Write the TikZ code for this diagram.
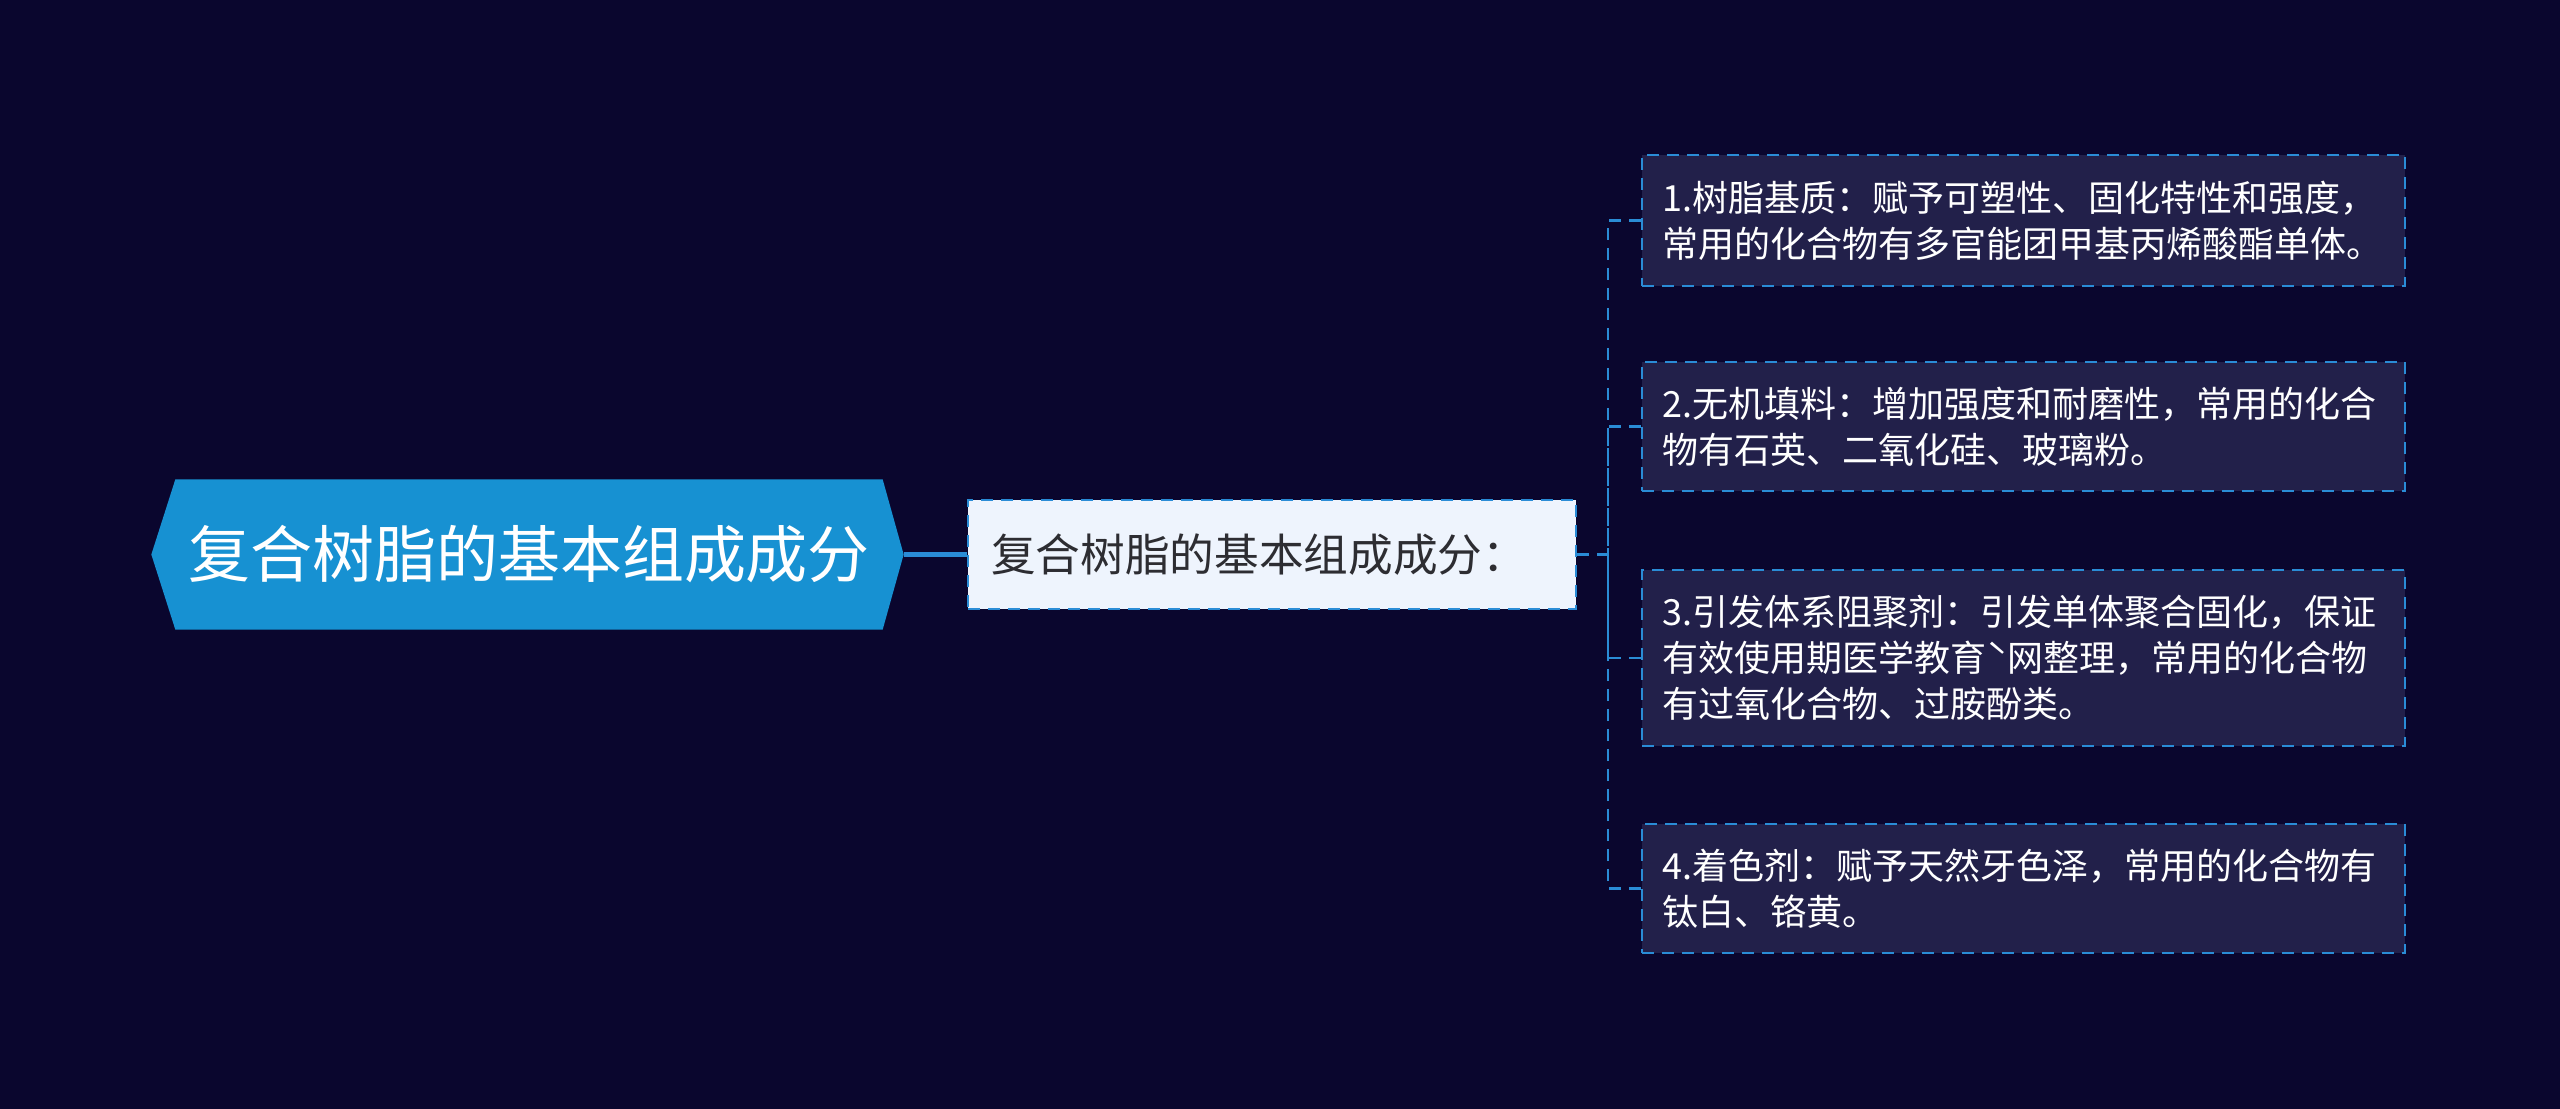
\documentclass[tikz,border=0pt]{standalone}
\usepackage{fontspec}
\newfontfamily\cjk{Noto Sans CJK SC}
\definecolor{bgc}{RGB}{10,6,46}
\definecolor{rootc}{RGB}{23,145,210}
\definecolor{linec}{RGB}{42,140,214}
\definecolor{leaffill}{RGB}{34,32,74}
\definecolor{childfill}{RGB}{238,244,253}
\definecolor{childtext}{RGB}{45,45,50}
\tikzset{
  dsh/.style={dash pattern=on 3.6pt off 2.4pt},
  rootbox/.style={inner sep=0pt, minimum width=211.8pt, minimum height=44.7pt, text=white,
    font=\cjk\fontsize{18.6pt}{22pt}\selectfont},
  childbox/.style={draw=linec, dsh, line width=0.8pt, fill=childfill, inner xsep=6.9pt, inner ysep=0pt,
    minimum width=182.4pt, minimum height=32.7pt, text width=168.6pt, align=left, text=childtext,
    font=\cjk\fontsize{13.4pt}{16pt}\selectfont},
  leafbox/.style={draw=linec, dsh, line width=0.8pt, fill=leaffill, inner xsep=6pt, inner ysep=0pt,
    minimum width=228.9pt, text width=216.9pt, align=left, text=white,
    font=\cjk\fontsize{10.8pt}{13.8pt}\selectfont},
  link/.style={draw=linec, line width=1.5pt},
  dlink/.style={draw=linec, dsh, line width=0.8pt}
}
\begin{document}
\begin{tikzpicture}[x=0.3pt,y=-0.3pt]
\fill[bgc] (0,0) rectangle (2560,1109);
\useasboundingbox (0,0) rectangle (2560,1109);
% root
\node[rootbox] (root) at (529,554.5) {};
\fill[rootc] (root.north west) -- (root.north east) -- ([xshift=6.3pt]root.east) -- (root.south east)
  -- (root.south west) -- ([xshift=-7.2pt]root.west) -- cycle;
\node[rootbox] (roottext) at (root.center) {复合树脂的基本组成成分};
% child
\node[childbox] (child) at (1272,554.5) {复合树脂的基本组成成分：};
% leaves
\node[leafbox, minimum height=39.3pt] (l1) at (2023.5,220.5) {1.树脂基质：赋予可塑性、固化特性和强度，\\常用的化合物有多官能团甲基丙烯酸酯单体。};
\node[leafbox, minimum height=38.7pt] (l2) at (2023.5,426.5) {2.无机填料：增加强度和耐磨性，常用的化合\\物有石英、二氧化硅、玻璃粉。};
\node[leafbox, minimum height=52.8pt] (l3) at (2023.5,658) {3.引发体系阻聚剂：引发单体聚合固化，保证\\有效使用期医学教育ˋ网整理，常用的化合物\\有过氧化合物、过胺酚类。};
\node[leafbox, minimum height=38.7pt] (l4) at (2023.5,888.5) {4.着色剂：赋予天然牙色泽，常用的化合物有\\钛白、铬黄。};
% connectors
\draw[link] ([xshift=6.3pt]root.east) -- (child.west);
\coordinate (bx) at (1608,554.5);
\draw[dlink] (child.east) -- (bx);
\draw[dlink] (l1.west) -| (bx);
\draw[dlink] (l2.west) -| (bx);
\draw[dlink] (l3.west) -| (bx);
\draw[dlink] (l4.west) -| (bx);
\end{tikzpicture}
\end{document}
